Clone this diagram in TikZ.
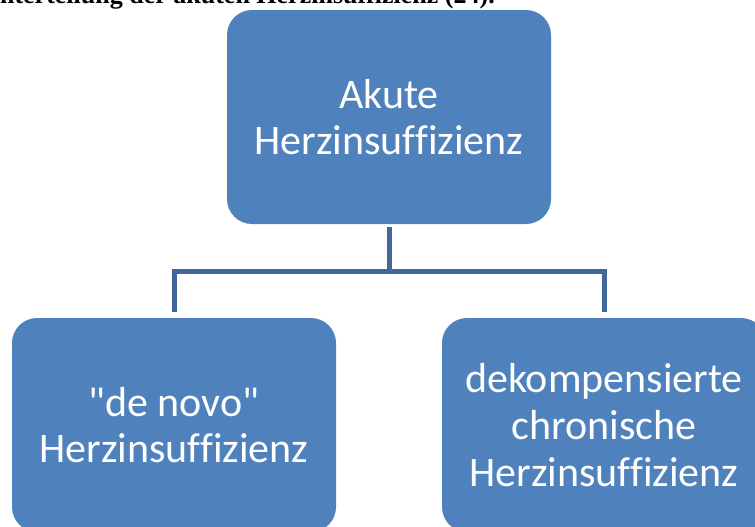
\documentclass[tikz,border=0pt]{standalone}
\usepackage{fontspec}
\usepackage{xcolor}
\usepackage{tikz}
\usetikzlibrary{positioning}
\newfontfamily\boxfont[Ligatures=NoCommon]{Carlito}
\newfontfamily\capfont{Liberation Serif}
\definecolor{boxblue}{RGB}{79,129,189}
\definecolor{linkblue}{RGB}{65,104,155}

\begin{document}
\begin{tikzpicture}[x=0.75pt,y=-0.75pt,node distance=322.5pt,
  box node/.style={rectangle,rounded corners=18.75pt,fill=boxblue,
    minimum width=243pt,minimum height=160.5pt,text=white,align=center,
    font=\boxfont\fontsize{31.5pt}{35pt}\selectfont},
  link/.style={draw=linkblue,line width=3.75pt,shorten <=2.25pt,shorten >=4.5pt}]

  \clip (0,0) rectangle (755,526);
  \useasboundingbox (0,0) rectangle (755,526);

  \node[anchor=base east,inner sep=0pt,font=\capfont\bfseries\fontsize{19.5pt}{23pt}\selectfont]
    (cap) at (495,3) {Unterteilung der akuten Herzinsuffizienz (24).};

  \node[box node] (1) at (389,117) {Akute\\Herzinsuffizienz};
  \node[box node] (2) at (174,425) {"de novo"\\Herzinsuffizienz};
  \node[box node] (3) [right of=2] {dekompensierte\\chronische\\Herzinsuffizienz};

  \coordinate (fork) at ([yshift=-35.25pt]1.south);

  \draw[link] (1.south) -- (fork) -| (2.north);
  \draw[link,shorten <=0pt] (fork) -| (3.north);
\end{tikzpicture}
\end{document}
